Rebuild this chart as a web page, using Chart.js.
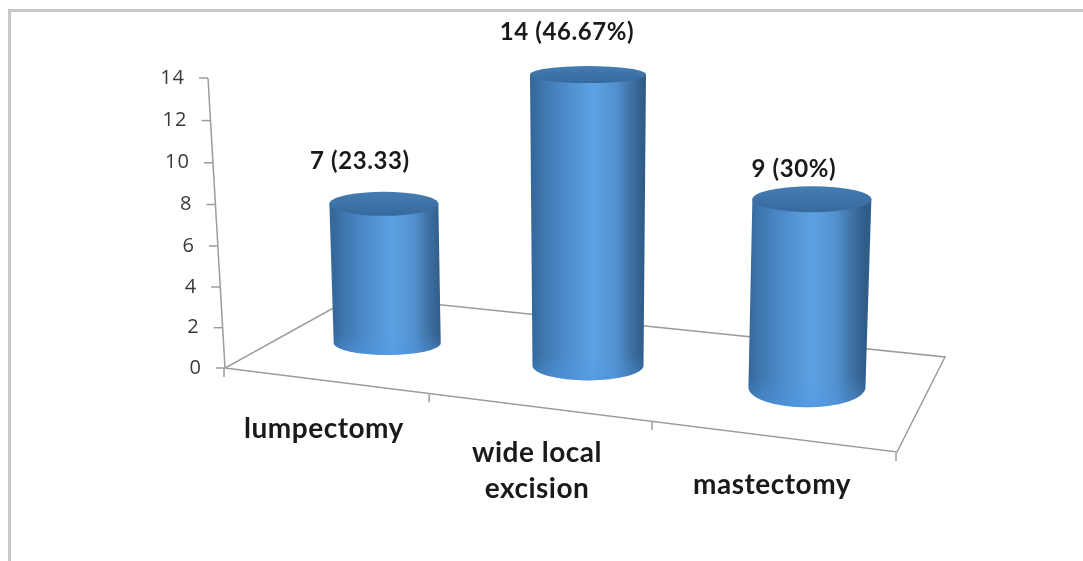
<!DOCTYPE html>
<html>
<head>
<meta charset="utf-8">
<title>Surgery type</title>
<script src="https://cdn.jsdelivr.net/npm/chart.js@4"></script>
<style>
    html, body { margin: 0; padding: 0; background: #fff; overflow: hidden; }
    canvas { display: block; }
</style>
</head>
<body>
<canvas id="surgeryChart" width="1083" height="561"></canvas>
<script>
// Chart data
const categories = ['lumpectomy', ['wide local', 'excision'], 'mastectomy'];
const patientCounts = [7, 14, 9];
const valueLabels = ['7 (23.33)', '14 (46.67%)', '9 (30%)'];
const yTicks = [0, 2, 4, 6, 8, 10, 12, 14];

// Cylinder shape per bar
const topRadius = [54.5, 58, 59.5];
const baseRadius = [53.5, 55.5, 58.5];
const topEllipse = [12, 8.5, 13];
const baseEllipse = [12, 15, 20];
const heightFactor = [0.975, 1.003, 1.02];
const footNudge = [[0, 3], [2, 3], [2, 0]];

// Label placement relative to the bar
const valueLabelShift = [[-24, -43], [-21, -42], [-18, -30]];
const categoryLabelShift = [[-13, 47], [-24, 61], [-13, 47]];
const dividerShift = [-1, 3, 3, -1];

// Floor corners of the 3D box: front left, front right, back right, back left
const FLOOR = [[225, 368], [897, 452], [945, 357], [355, 296]];
const AXIS_TOP_LEAN = -17;
const VERTICAL_LEAN = 0.00012;
const VANISH_X = 588;

// Perspective projection of the unit square onto the floor
function floorPoint(u, v) {
    const [p0, p1, p2, p3] = FLOOR;
    const dx1 = p1[0] - p2[0], dx2 = p3[0] - p2[0], sx = p0[0] - p1[0] + p2[0] - p3[0];
    const dy1 = p1[1] - p2[1], dy2 = p3[1] - p2[1], sy = p0[1] - p1[1] + p2[1] - p3[1];
    const den = dx1 * dy2 - dx2 * dy1;
    const g = (sx * dy2 - dx2 * sy) / den;
    const h = (dx1 * sy - sx * dy1) / den;
    const w = g * u + h * v + 1;
    return {
        x: ((p1[0] - p0[0] + g * p1[0]) * u + (p3[0] - p0[0] + h * p3[0]) * v + p0[0]) / w,
        y: ((p1[1] - p0[1] + g * p1[1]) * u + (p3[1] - p0[1] + h * p3[1]) * v + p0[1]) / w
    };
}

// Value axis whose upper ticks sit a little further apart
class PerspectiveScale extends Chart.LinearScale {
    getPixelForValue(value) {
        const k = 0.031;
        const t = (value - this.min) / (this.max - this.min);
        return this.bottom - (this.bottom - this.top) * t * (1 - k) / (1 - k * t);
    }
}
PerspectiveScale.id = 'perspective';
PerspectiveScale.defaults = Chart.LinearScale.defaults;
Chart.register(PerspectiveScale);

function line(ctx, x1, y1, x2, y2) {
    ctx.beginPath();
    ctx.moveTo(x1, y1);
    ctx.lineTo(x2, y2);
    ctx.stroke();
}

// Outer border, floor, axis and ticks
function drawBox(chart) {
    const ctx = chart.ctx;
    const yScale = chart.scales.y;
    const [p0, p1, p2, p3] = FLOOR;

    ctx.save();
    ctx.strokeStyle = '#c9c9c9';
    ctx.lineWidth = 3;
    ctx.beginPath();
    ctx.moveTo(9.5, chart.height);
    ctx.lineTo(9.5, 10.5);
    ctx.lineTo(chart.width, 10.5);
    ctx.stroke();

    ctx.strokeStyle = '#9c9c9c';
    ctx.lineWidth = 1.5;
    ctx.beginPath();
    ctx.moveTo(p0[0], p0[1]);
    ctx.lineTo(p1[0], p1[1]);
    ctx.lineTo(p2[0], p2[1]);
    ctx.lineTo(p3[0], p3[1]);
    ctx.closePath();
    ctx.stroke();

    // Value axis leaning to the left on its way up
    const y0 = yScale.getPixelForValue(0);
    const yMax = yScale.getPixelForValue(14);
    const axisX = py => p0[0] + AXIS_TOP_LEAN * (y0 - py) / (y0 - yMax);
    line(ctx, axisX(yMax), yMax, p0[0], y0);

    ctx.fillStyle = '#3a3a3a';
    ctx.font = '20px "Open Sans"';
    ctx.letterSpacing = '1px';
    ctx.textAlign = 'right';
    ctx.textBaseline = 'middle';
    yTicks.forEach(tick => {
        const py = yScale.getPixelForValue(tick);
        const px = axisX(py);
        line(ctx, px - 9, py, px, py);
        ctx.fillText(String(tick), px - 23, py);
    });

    // Category dividers below the front edge
    dividerShift.forEach((shift, i) => {
        const p = floorPoint(i / categories.length, 0);
        line(ctx, p.x + shift, p.y + 1, p.x + shift, p.y + 9);
    });
    ctx.restore();
}

// Cylinder for one bar, standing on the middle of its floor slot
function drawCylinder(chart, bar, i) {
    const ctx = chart.ctx;
    const xScale = chart.scales.x;
    const u = (bar.x - xScale.left) / (xScale.right - xScale.left);
    const foot = floorPoint(u, 0.5);
    foot.x += footNudge[i][0];
    foot.y += footNudge[i][1];
    const height = (bar.base - bar.y) * heightFactor[i];
    const topX = foot.x + (foot.x - VANISH_X) * VERTICAL_LEAN * height;
    const topY = foot.y - height;
    const rt = topRadius[i];
    const rb = baseRadius[i];

    const side = ctx.createLinearGradient(foot.x - rb, 0, foot.x + rb, 0);
    side.addColorStop(0, '#35689b');
    side.addColorStop(0.1, '#3f77b0');
    side.addColorStop(0.3, '#4d8ccb');
    side.addColorStop(0.55, '#5ca2e3');
    side.addColorStop(0.75, '#5291cf');
    side.addColorStop(0.88, '#3f73a6');
    side.addColorStop(1, '#305c88');

    ctx.save();
    ctx.fillStyle = side;
    ctx.beginPath();
    ctx.moveTo(topX - rt, topY);
    ctx.lineTo(foot.x - rb, foot.y);
    ctx.ellipse(foot.x, foot.y, rb, baseEllipse[i], 0, Math.PI, 0, true);
    ctx.lineTo(topX + rt, topY);
    ctx.closePath();
    ctx.fill();

    // Lighter rim at the bottom of the cylinder
    const rim = ctx.createLinearGradient(0, foot.y - 10, 0, foot.y + baseEllipse[i]);
    rim.addColorStop(0, 'rgba(78, 150, 225, 0)');
    rim.addColorStop(1, 'rgba(78, 150, 225, 0.5)');
    ctx.fillStyle = rim;
    ctx.beginPath();
    ctx.moveTo(foot.x - rb, foot.y - 10);
    ctx.lineTo(foot.x - rb, foot.y);
    ctx.ellipse(foot.x, foot.y, rb, baseEllipse[i], 0, Math.PI, 0, true);
    ctx.lineTo(foot.x + rb, foot.y - 10);
    ctx.closePath();
    ctx.fill();

    const cap = ctx.createLinearGradient(0, topY - topEllipse[i], 0, topY + topEllipse[i]);
    cap.addColorStop(0, '#467cb2');
    cap.addColorStop(1, '#366a9e');
    ctx.fillStyle = cap;
    ctx.beginPath();
    ctx.ellipse(topX, topY, rt, topEllipse[i], 0, 0, Math.PI * 2);
    ctx.fill();
    ctx.restore();

    // Value label above the cylinder
    ctx.save();
    ctx.fillStyle = '#1a1a1a';
    ctx.font = 'bold 24px Lato';
    ctx.letterSpacing = '0.6px';
    ctx.textAlign = 'center';
    ctx.textBaseline = 'middle';
    ctx.fillText(valueLabels[i], topX + valueLabelShift[i][0], topY + valueLabelShift[i][1]);
    ctx.restore();
}

function drawCategoryLabels(chart) {
    const ctx = chart.ctx;
    const bars = chart.getDatasetMeta(0).data;
    const [p0, p1] = FLOOR;
    const slope = (p1[1] - p0[1]) / (p1[0] - p0[0]);

    ctx.save();
    ctx.fillStyle = '#1a1a1a';
    ctx.font = 'bold 28px Lato';
    ctx.letterSpacing = '0.5px';
    ctx.textAlign = 'center';
    ctx.textBaseline = 'middle';
    bars.forEach((bar, i) => {
        const lines = [].concat(categories[i]);
        const x = bar.x + categoryLabelShift[i][0];
        const y = p0[1] + slope * (bar.x - p0[0]) + categoryLabelShift[i][1];
        lines.forEach((text, n) => {
            ctx.fillText(text, x, y + (n - (lines.length - 1) / 2) * 36);
        });
    });
    ctx.restore();
}

const cylinderPlugin = {
    id: 'cylinders',
    beforeDatasetsDraw: drawBox,
    afterDatasetsDraw(chart) {
        chart.getDatasetMeta(0).data.forEach((bar, i) => drawCylinder(chart, bar, i));
        drawCategoryLabels(chart);
    }
};

new Chart(document.getElementById('surgeryChart'), {
    type: 'bar',
    data: {
        labels: categories,
        datasets: [{
            data: patientCounts,
            backgroundColor: 'transparent',
            borderWidth: 0
        }]
    },
    options: {
        responsive: false,
        animation: false,
        layout: { padding: { left: 225, right: 186, top: 78, bottom: 193 } },
        plugins: {
            legend: { display: false },
            tooltip: { enabled: false }
        },
        scales: {
            x: { display: false },
            y: { type: 'perspective', display: false, min: 0, max: 14 }
        }
    },
    plugins: [cylinderPlugin]
});
</script>
</body>
</html>
